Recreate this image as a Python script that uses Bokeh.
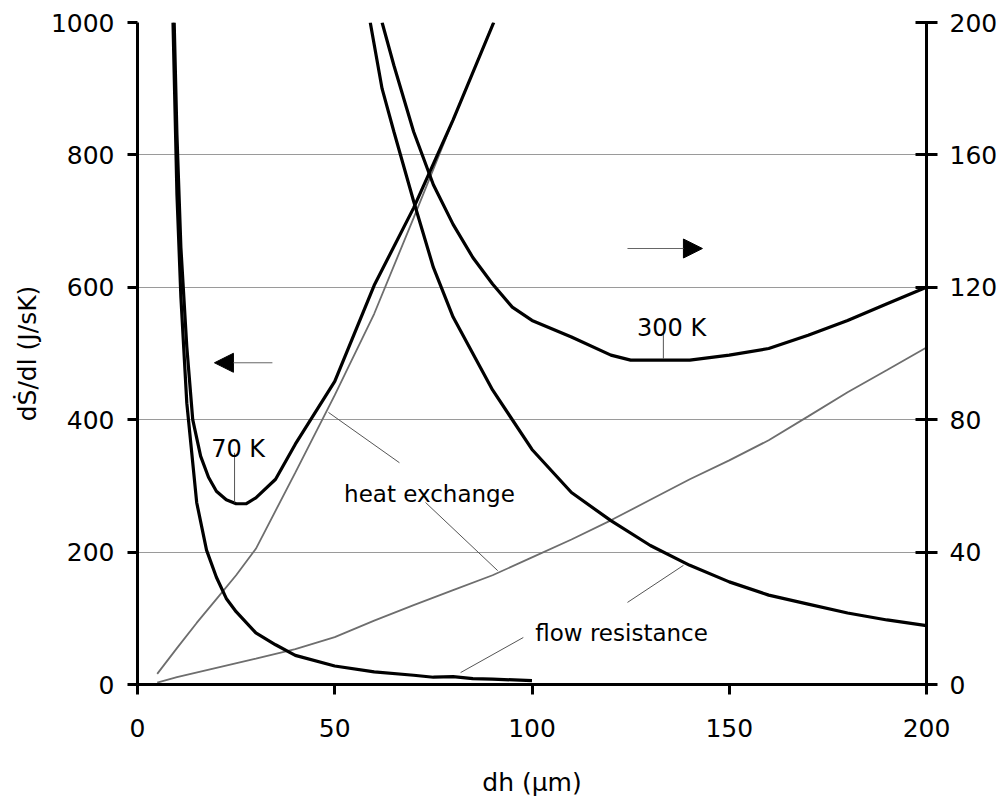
from bokeh.plotting import figure
from bokeh.models import (Range1d, LinearAxis, FixedTicker, Label, Arrow,
                          NormalHead)
from bokeh.embed import file_html
from bokeh.resources import INLINE

FONT = "DejaVu Sans"

# ---- 70 K (left axis, dS/dl in J/sK) ----
dh_total_70 = [9.3, 10, 11, 12.5, 14, 16, 18, 20, 22.5, 25, 27.5, 30, 35, 40,
               50, 60, 70, 80, 90.3]
total_70 = [1000, 830, 660, 510, 400, 345, 313, 292, 279, 273, 273, 282, 310,
            363, 458, 603, 720, 853, 1000]

dh_flow_70 = [9, 10, 11, 12.5, 15, 17.5, 20, 22.5, 25, 30, 35, 40, 50, 60, 70,
              75, 80, 85, 90, 100]
flow_70 = [1000, 740, 585, 425, 275, 203, 162, 130, 110, 78, 60, 44, 28, 19,
           14, 11, 12, 9, 8, 6]

dh_heat_70 = [5, 10, 15, 20, 25, 30, 40, 50, 60, 70, 80, 90.2]
heat_70 = [16, 55, 93, 129, 165, 205, 320, 437, 560, 705, 852, 1000]

# ---- 300 K (right axis) ----
dh_total_300 = [62, 65, 70, 75, 80, 85, 90, 95, 100, 110, 120, 125, 130, 140,
                150, 160, 170, 180, 190, 200]
total_300 = [200, 187, 167, 151, 139, 129, 121, 114, 110, 105, 99.5, 98, 98,
             98, 99.5, 101.5, 105.5, 110, 115, 120]

dh_flow_300 = [59, 62, 65, 70, 75, 80, 85, 90, 100, 110, 120, 130, 140, 150,
               160, 170, 180, 190, 200]
flow_300 = [200, 180, 167, 146, 126, 111, 100, 89, 71, 58, 49.5, 42, 36, 31,
            27, 24.3, 21.6, 19.5, 17.8]

dh_heat_300 = [5, 10, 20, 30, 40, 50, 60, 70, 80, 90, 100, 110, 120, 130, 140,
               150, 160, 170, 180, 190, 200]
heat_300 = [0.6, 2.2, 5.0, 7.8, 10.7, 14.3, 19.3, 24.0, 28.5, 33.0, 38.4, 43.8,
            49.6, 55.8, 62.0, 67.7, 73.8, 81.0, 88.3, 95.0, 101.8]

left_ticks = [0, 200, 400, 600, 800, 1000]
right_ticks = [0, 40, 80, 120, 160, 200]
x_ticks = [0, 50, 100, 150, 200]

p = figure(width=1006, height=800, x_range=Range1d(0, 200),
           y_range=Range1d(0, 1000), output_backend="svg",
           toolbar_location=None, min_border_left=137, min_border_right=80,
           min_border_top=22, min_border_bottom=116)
p.extra_y_ranges = {"right": Range1d(0, 200)}
p.outline_line_color = None
p.background_fill_color = "white"
p.border_fill_color = "white"

right_axis = LinearAxis(y_range_name="right")
p.add_layout(right_axis, "right")


def style_axis(ax, ticks, tick_in, tick_out, standoff):
    ax.ticker = FixedTicker(ticks=ticks)
    ax.axis_line_width = 3
    ax.axis_line_color = "black"
    ax.major_tick_line_width = 3
    ax.major_tick_line_color = "black"
    ax.major_tick_in = tick_in
    ax.major_tick_out = tick_out
    ax.minor_tick_line_color = None
    ax.major_label_text_font = FONT
    ax.major_label_text_font_size = "25px"
    ax.major_label_text_color = "black"
    ax.major_label_standoff = standoff
    ax.axis_label_text_font = FONT
    ax.axis_label_text_font_size = "25px"
    ax.axis_label_text_font_style = "normal"
    ax.axis_label_text_color = "black"


style_axis(p.xaxis[0], x_ticks, 0, 10, 24)
style_axis(p.yaxis[0], left_ticks, 0, 10, 13)
style_axis(right_axis, right_ticks, 11, 11, 12)

p.yaxis[0].axis_label = "dṠ/dl (J/sK)"
p.yaxis[0].axis_label_standoff = 6
p.xaxis[0].axis_label = "dh (µm)"
p.xaxis[0].axis_label_standoff = 28

p.xgrid.visible = False
p.ygrid.ticker = FixedTicker(ticks=left_ticks)
p.ygrid.grid_line_color = "#9a9a9a"
p.ygrid.grid_line_width = 1

# heat-exchange contributions (thin grey)
p.line(dh_heat_70, heat_70, line_color="#6e6e6e", line_width=1.8)
p.line(dh_heat_300, heat_300, line_color="#6e6e6e", line_width=1.8,
       y_range_name="right")

# flow-resistance contributions and totals (thick black)
p.line(dh_flow_70, flow_70, line_color="black", line_width=3.2)
p.line(dh_total_70, total_70, line_color="black", line_width=3.2)
p.line(dh_flow_300, flow_300, line_color="black", line_width=3.2,
       y_range_name="right")
p.line(dh_total_300, total_300, line_color="black", line_width=3.2,
       y_range_name="right")

# callout leader lines
p.segment(x0=[24.6, 133.3, 48.4, 73.0, 124.2, 97.8],
          y0=[350, 532, 411, 275, 124, 71],
          x1=[24.6, 133.3, 66.4, 91.3, 138.4, 81.9],
          y1=[275, 492, 335, 172, 180, 18],
          line_color="#555555", line_width=1)

# axis-direction arrows
p.add_layout(Arrow(end=NormalHead(size=19, fill_color="black",
                                  line_color="black"),
                   x_start=34.2, y_start=486, x_end=19.5, y_end=486,
                   line_color="#666666", line_width=1))
p.add_layout(Arrow(end=NormalHead(size=19, fill_color="black",
                                  line_color="black"),
                   x_start=124.2, y_start=658.6, x_end=143.2, y_end=658.6,
                   line_color="#666666", line_width=1))


def add_text(x, y, txt, size="24px"):
    p.add_layout(Label(x=x, y=y, text=txt, text_align="center",
                       text_baseline="alphabetic", text_font=FONT,
                       text_font_size=size, text_color="black"))


add_text(25.5, 355, "70 K")
add_text(135.4, 539, "300 K")
add_text(74.0, 288.5, "heat exchange", "23px")
add_text(122.7, 78.5, "flow resistance", "23px")

open("out.html", "w").write(file_html(p, INLINE))
